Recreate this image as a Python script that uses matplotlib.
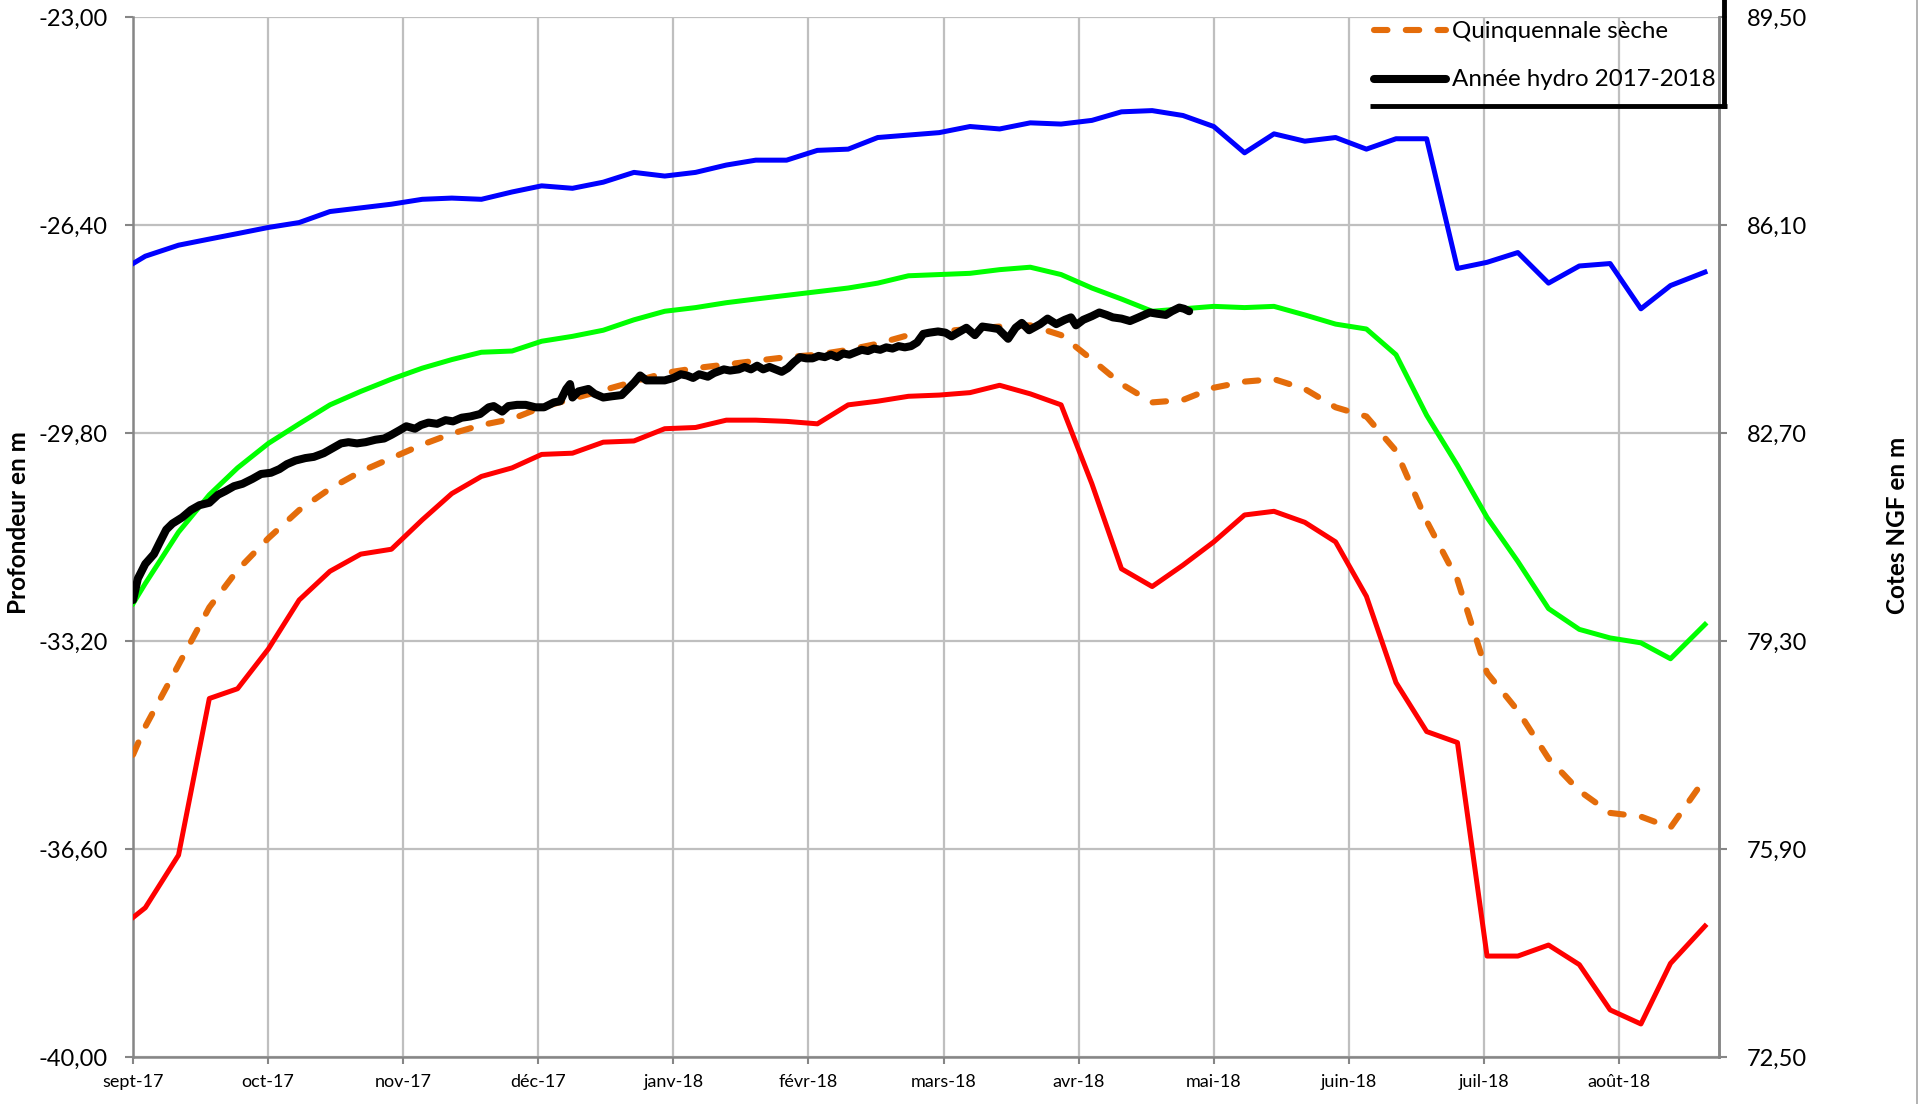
import matplotlib
matplotlib.use("Agg")
import matplotlib.pyplot as plt
from matplotlib.lines import Line2D
from matplotlib import font_manager
import numpy as np

plt.rcParams['font.family'] = ['Lato', 'DejaVu Sans']

# ---------------- DATA ----------------
# x positions expressed in months since 1 Sept 2017 (axis has equal month spacing)
x_weekly = [0.000, 0.091, 0.337, 0.565, 0.774, 1.002, 1.230, 1.458, 1.686, 1.913,
            2.141, 2.360, 2.579, 2.806, 3.025, 3.253, 3.481, 3.708, 3.936, 4.164,
            4.392, 4.610, 4.838, 5.066, 5.294, 5.513, 5.740, 5.968, 6.196, 6.415,
            6.642, 6.870, 7.098, 7.317, 7.544, 7.772, 8.000, 8.228, 8.446, 8.674,
            8.902, 9.130, 9.349, 9.576, 9.804, 10.023, 10.251, 10.478, 10.706, 10.934,
            11.162, 11.381, 11.636]

serie_max = [-27.03, -26.91, -26.73, -26.63, -26.54, -26.44, -26.36, -26.18, -26.12, -26.06,
             -25.98, -25.96, -25.98, -25.86, -25.76, -25.80, -25.70, -25.54, -25.60, -25.54,
             -25.42, -25.34, -25.34, -25.18, -25.16, -24.97, -24.93, -24.89, -24.79, -24.83,
             -24.73, -24.75, -24.69, -24.55, -24.53, -24.61, -24.79, -25.22, -24.91, -25.03,
             -24.97, -25.16, -24.99, -24.99, -27.11, -27.01, -26.85, -27.35, -27.07, -27.03,
             -27.77, -27.39, -27.17]

serie_humide = [-32.59, -32.26, -31.42, -30.81, -30.37, -29.97, -29.65, -29.34, -29.12, -28.92,
                -28.74, -28.60, -28.48, -28.46, -28.30, -28.22, -28.12, -27.95, -27.81, -27.75,
                -27.67, -27.61, -27.55, -27.49, -27.43, -27.35, -27.23, -27.21, -27.19, -27.13,
                -27.09, -27.21, -27.43, -27.61, -27.81, -27.77, -27.73, -27.75, -27.73, -27.87,
                -28.02, -28.10, -28.52, -29.51, -30.33, -31.18, -31.90, -32.67, -33.01, -33.15,
                -33.23, -33.49, -32.93]

serie_min = [-37.72, -37.56, -36.70, -34.14, -33.98, -33.33, -32.53, -32.06, -31.78, -31.70,
             -31.22, -30.79, -30.51, -30.37, -30.15, -30.13, -29.95, -29.93, -29.73, -29.71,
             -29.59, -29.59, -29.61, -29.65, -29.34, -29.28, -29.20, -29.18, -29.14, -29.02,
             -29.16, -29.34, -30.63, -32.02, -32.31, -31.96, -31.58, -31.14, -31.08, -31.26,
             -31.58, -32.47, -33.88, -34.68, -34.86, -38.35, -38.35, -38.17, -38.49, -39.23,
             -39.46, -38.47, -37.86]

quinquennale_seche = [-35.06, -34.60, -33.59, -32.65, -32.04, -31.52, -31.06, -30.71, -30.43, -30.21,
                      -29.99, -29.81, -29.67, -29.57, -29.38, -29.24, -29.10, -28.96, -28.82, -28.74,
                      -28.68, -28.62, -28.56, -28.52, -28.44, -28.34, -28.20, -28.14, -28.10, -28.06,
                      -28.04, -28.20, -28.60, -29.00, -29.30, -29.26, -29.06, -28.96, -28.92, -29.08,
                      -29.38, -29.53, -30.09, -31.24, -32.20, -33.72, -34.34, -35.12, -35.65, -36.01,
                      -36.07, -36.25, -35.45]

x_annee = [0.000, 0.036, 0.091, 0.155, 0.200, 0.246, 0.292, 0.364, 0.428, 0.492,
           0.565, 0.629, 0.683, 0.747, 0.811, 0.884, 0.948, 1.021, 1.084, 1.139,
           1.203, 1.276, 1.339, 1.412, 1.476, 1.540, 1.595, 1.658, 1.722, 1.795,
           1.859, 1.913, 1.977, 2.023, 2.087, 2.132, 2.187, 2.251, 2.314, 2.369,
           2.433, 2.497, 2.569, 2.633, 2.670, 2.733, 2.779, 2.843, 2.907, 2.979,
           3.043, 3.116, 3.162, 3.207, 3.235, 3.253, 3.298, 3.371, 3.417, 3.481,
           3.544, 3.617, 3.663, 3.708, 3.754, 3.800, 3.863, 3.936, 4.000, 4.055,
           4.100, 4.146, 4.191, 4.255, 4.301, 4.374, 4.419, 4.483, 4.528, 4.574,
           4.620, 4.665, 4.711, 4.756, 4.802, 4.847, 4.893, 4.938, 4.984, 5.030,
           5.075, 5.121, 5.166, 5.212, 5.257, 5.303, 5.349, 5.394, 5.440, 5.485,
           5.531, 5.576, 5.622, 5.667, 5.713, 5.759, 5.804, 5.850, 5.895, 5.959,
           6.014, 6.059, 6.169, 6.232, 6.287, 6.351, 6.405, 6.478, 6.533, 6.579,
           6.633, 6.715, 6.770, 6.834, 6.897, 6.943, 6.980, 7.034, 7.098, 7.153,
           7.207, 7.253, 7.317, 7.380, 7.444, 7.526, 7.581, 7.645, 7.690, 7.745,
           7.781, 7.818]

annee_hydro = [-32.53, -32.18, -31.94, -31.78, -31.58, -31.38, -31.28, -31.18, -31.06, -30.98,
               -30.94, -30.81, -30.75, -30.67, -30.63, -30.55, -30.47, -30.45, -30.39, -30.31,
               -30.25, -30.21, -30.19, -30.13, -30.05, -29.97, -29.95, -29.97, -29.95, -29.91,
               -29.89, -29.83, -29.75, -29.69, -29.73, -29.67, -29.63, -29.65, -29.59, -29.61,
               -29.55, -29.53, -29.49, -29.38, -29.36, -29.45, -29.36, -29.34, -29.34, -29.38,
               -29.38, -29.30, -29.28, -29.08, -29.00, -29.22, -29.12, -29.08, -29.16, -29.22,
               -29.20, -29.18, -29.08, -28.98, -28.86, -28.94, -28.94, -28.94, -28.90, -28.84,
               -28.86, -28.90, -28.84, -28.88, -28.82, -28.76, -28.78, -28.76, -28.72, -28.76,
               -28.70, -28.76, -28.72, -28.76, -28.80, -28.74, -28.64, -28.56, -28.58, -28.58,
               -28.54, -28.56, -28.52, -28.56, -28.50, -28.52, -28.48, -28.44, -28.46, -28.42,
               -28.44, -28.40, -28.42, -28.38, -28.40, -28.38, -28.32, -28.18, -28.16, -28.14,
               -28.16, -28.22, -28.08, -28.20, -28.06, -28.08, -28.10, -28.26, -28.08, -28.00,
               -28.12, -28.02, -27.93, -28.02, -27.95, -27.91, -28.04, -27.95, -27.89, -27.83,
               -27.87, -27.91, -27.93, -27.97, -27.91, -27.83, -27.85, -27.87, -27.81, -27.75,
               -27.77, -27.81]

month_labels = ['sept-17', 'oct-17', 'nov-17', 'déc-17', 'janv-18', 'févr-18', 'mars-18',
                'avr-18', 'mai-18', 'juin-18', 'juil-18', 'août-18']
left_ticks = [-40.0, -36.6, -33.2, -29.8, -26.4, -23.0]
right_ticks = [72.5, 75.9, 79.3, 82.7, 86.1, 89.5]
legend_labels = ['Quinquennale sèche', 'Année hydro 2017-2018']

# ---------------- FIGURE ----------------
W, H = 1931, 1104
fig = plt.figure(figsize=(W / 100, H / 100), dpi=100)
ax = fig.add_axes([133 / W, 1 - 1057 / H, (1719 - 133) / W, (1057 - 17) / H])

grid_c = '#BFBFBF'
spine_c = '#868686'

ax.plot(x_weekly, serie_max, color='#0000FF', lw=3.6, zorder=3, solid_joinstyle='round')
ax.plot(x_weekly, serie_humide, color='#00FF00', lw=3.6, zorder=3, solid_joinstyle='round')
ax.plot(x_weekly, serie_min, color='#FF0000', lw=3.6, zorder=3, solid_joinstyle='round')
l_q, = ax.plot(x_weekly, quinquennale_seche, color='#E46C0A', lw=4.4, zorder=4,
               dashes=(2.2, 3.0), dash_capstyle='round')
l_a, = ax.plot(x_annee, annee_hydro, color='black', lw=5.8, zorder=5,
               solid_joinstyle='round', solid_capstyle='round')

ax.set_xlim(0, 11.74)
ax.set_ylim(-40, -23)
ax.set_xticks(range(len(month_labels)))
xfam = ['Liberation Sans Narrow', 'Lato'] if any(
    'Narrow' in f.name for f in font_manager.fontManager.ttflist) else ['Lato']
ax.set_xticklabels(month_labels, fontsize=13, family=xfam)
ax.set_yticks(left_ticks)
ax.set_yticklabels([f"{v:.2f}".replace('.', ',') for v in left_ticks], fontsize=17)

ax.grid(True, color=grid_c, lw=1.6, zorder=0)
ax.set_axisbelow(True)
ax.spines['top'].set_visible(False)
for s in ['left', 'bottom', 'right']:
    ax.spines[s].set_color(spine_c)
    ax.spines[s].set_linewidth(1.8)
ax.tick_params(axis='y', direction='out', length=6, width=1.5, color=spine_c, pad=12)
ax.tick_params(axis='x', direction='out', length=5, width=1.5, color=spine_c, pad=7)

ax2 = ax.twinx()
ax2.set_ylim(72.5, 89.5)
ax2.set_yticks(right_ticks)
ax2.set_yticklabels([f"{v:.2f}".replace('.', ',') for v in right_ticks], fontsize=17)
for s in ['top', 'left', 'bottom']:
    ax2.spines[s].set_visible(False)
ax2.spines['right'].set_color(spine_c)
ax2.spines['right'].set_linewidth(1.8)
ax2.tick_params(axis='y', direction='out', length=6, width=1.5, color=spine_c, pad=14)

fig.text(18.5 / W, 1 - 523 / H, 'Profondeur en m', rotation=90, ha='center', va='center',
         fontsize=17.5, fontweight='bold')
fig.text(1898 / W, 1 - 525 / H, 'Cotes NGF en m', rotation=90, ha='center', va='center',
         fontsize=17.5, fontweight='bold')

# Legend (partially cut at top in the original)
tf = fig.transFigure
for handle, label, ypx in [(l_q, legend_labels[0], 30), (l_a, legend_labels[1], 79)]:
    ln = Line2D([1374 / W, 1446 / W], [1 - ypx / H, 1 - ypx / H], transform=tf,
                color=handle.get_color(), lw=handle.get_linewidth(),
                solid_capstyle='round', dash_capstyle='round')
    if handle is l_q:
        ln.set_dashes((2.2, 3.0))
    fig.add_artist(ln)
    fig.text(1452 / W, 1 - (ypx + 1) / H, label, ha='left', va='center', fontsize=17.4)

fig.add_artist(Line2D([1370 / W, 1727 / W], [1 - 106 / H, 1 - 106 / H], transform=tf,
                      color='black', lw=3.5, solid_capstyle='butt'))
fig.add_artist(Line2D([1724 / W, 1724 / W], [1 - 106 / H, 1.0], transform=tf,
                      color='black', lw=3.5, solid_capstyle='projecting'))
fig.add_artist(Line2D([1917 / W, 1917 / W], [0, 1], transform=tf, color='#A6A6A6', lw=1.2))

fig.savefig('out.png', dpi=100)
